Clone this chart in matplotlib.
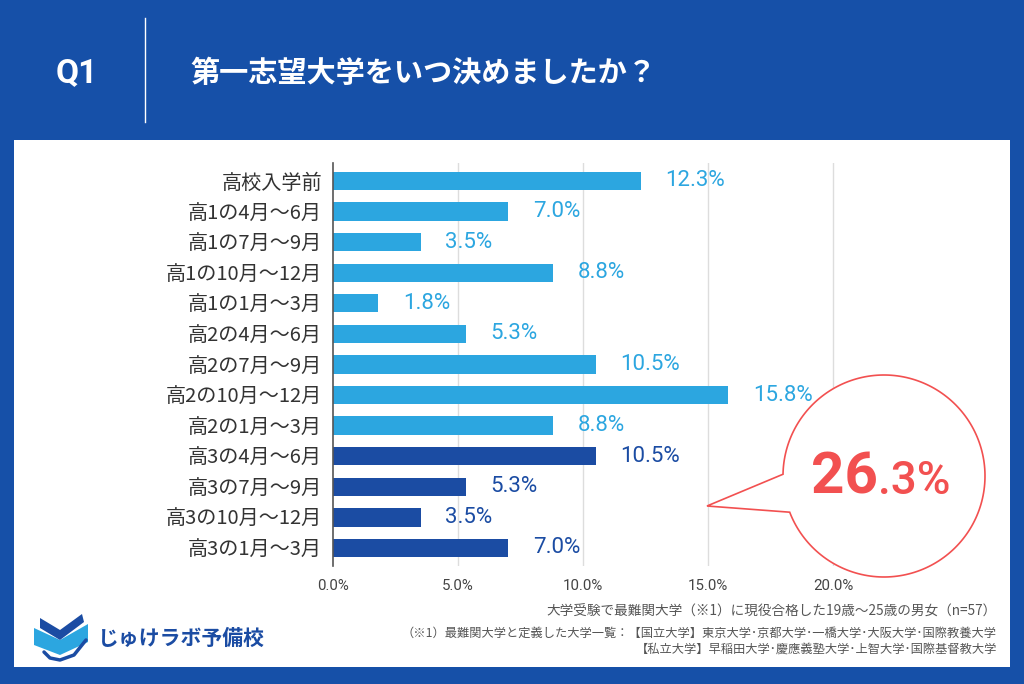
import matplotlib
matplotlib.use('Agg')
import matplotlib.pyplot as plt
from matplotlib.patches import Rectangle, PathPatch, Polygon
from matplotlib.path import Path
import numpy as np

plt.rcParams['font.family'] = ['Roboto', 'Noto Sans CJK JP', 'DejaVu Sans']

# data
categories = ['高校入学前', '高1の4月～6月', '高1の7月～9月', '高1の10月～12月', '高1の1月～3月',
              '高2の4月～6月', '高2の7月～9月', '高2の10月～12月', '高2の1月～3月',
              '高3の4月～6月', '高3の7月～9月', '高3の10月～12月', '高3の1月～3月']
values = [12.3, 7.0, 3.5, 8.8, 1.8, 5.3, 10.5, 15.8, 8.8, 10.5, 5.3, 3.5, 7.0]
is_grade3 = [False] * 9 + [True] * 4
xticks = [0, 5, 10, 15, 20]
total_grade3 = '26'
total_grade3_dec = '.3%'

title = '第一志望大学をいつ決めましたか？'
qlabel = 'Q1'
note1 = '大学受験で最難関大学（※1）に現役合格した19歳～25歳の男女（n=57）'
note2 = '（※1）最難関大学と定義した大学一覧：【国立大学】東京大学･京都大学･一橋大学･大阪大学･国際教養大学'
note3 = '【私立大学】早稲田大学･慶應義塾大学･上智大学･国際基督教大学'
logo = 'じゅけラボ予備校'

BG = '#1650A8'
LIGHT = '#2CA6E0'
DARK = '#1B4CA3'
RED = '#F25050'

W, H = 1024, 684
fig = plt.figure(figsize=(W / 100, H / 100), dpi=100)
fig.patch.set_facecolor(BG)

# background layer in pixel coords
bg = fig.add_axes([0, 0, 1, 1], zorder=0)
bg.set_xlim(0, W)
bg.set_ylim(H, 0)
bg.axis('off')
bg.add_patch(Rectangle((14, 140), 996, 527, facecolor='white', edgecolor='none'))
bg.plot([145, 145], [18, 122], color='white', lw=1)
bg.text(77, 73, qlabel, color='white', fontsize=24, fontweight='bold', ha='center', va='center')
bg.text(190, 73, title, color='white', fontsize=21, fontweight='bold', ha='left', va='center',
        family=['Noto Sans CJK JP'])

# footnotes
bg.text(997, 612, note1, color='#555555', fontsize=9.8, ha='right', va='center', family=['Noto Sans CJK JP'])
bg.text(997, 633, note2, color='#555555', fontsize=8.8, ha='right', va='center', family=['Noto Sans CJK JP'])
bg.text(997, 649, note3, color='#555555', fontsize=8.8, ha='right', va='center', family=['Noto Sans CJK JP'])

# logo
bg.add_patch(Polygon([[34, 628], [60, 640], [60, 655], [34, 645]], closed=True, facecolor=LIGHT, edgecolor='none'))
bg.add_patch(Polygon([[60, 640], [88, 624], [88, 642], [60, 655]], closed=True, facecolor=LIGHT, edgecolor='none'))
bg.add_patch(Polygon([[40, 618], [60, 630], [60, 640], [40, 628]], closed=True, facecolor=DARK, edgecolor='none'))
bg.add_patch(Polygon([[60, 630], [82, 614], [84, 622], [60, 640]], closed=True, facecolor=DARK, edgecolor='none'))
bg.plot([44, 50, 60, 74, 86], [652, 658, 660, 655, 640], color=DARK, lw=2.5, solid_capstyle='round')
bg.text(98, 638, logo, color=DARK, fontsize=15, fontweight='bold', ha='left', va='center',
        family=['Noto Sans CJK JP'])

# chart
ax = fig.add_axes([333 / W, 1 - 566.3 / H, 650 / W, 403.7 / H], zorder=1)
ax.patch.set_alpha(0)
y = np.arange(len(categories))
colors = [DARK if g else LIGHT for g in is_grade3]
ax.barh(y, values, height=0.6, color=colors, zorder=2)
for yi, v, c in zip(y, values, colors):
    ax.text(v + 1.0, yi, f'{v:.1f}%', color=c, fontsize=16, va='center', ha='left', family=['Roboto'])
ax.set_xlim(0, 26)
ax.set_ylim(12.6, -0.6)
ax.set_yticks(y)
ax.set_yticklabels(categories, fontsize=14.5, color='#333333', family=['Noto Sans CJK JP'])
ax.set_xticks(xticks)
ax.set_xticklabels([f'{t:.1f}%' for t in xticks], fontsize=10.8, color='#444444')
ax.tick_params(axis='y', length=0, pad=8)
ax.tick_params(axis='x', length=0, pad=9)
for t in xticks[1:]:
    ax.axvline(t, color='#DDDDDD', lw=1, zorder=1)
for s in ['top', 'right', 'bottom']:
    ax.spines[s].set_visible(False)
ax.spines['left'].set_color('#555555')
ax.spines['left'].set_linewidth(1.2)

# speech balloon on top
fg = fig.add_axes([0, 0, 1, 1], zorder=3)
fg.set_xlim(0, W)
fg.set_ylim(H, 0)
fg.axis('off')
fg.patch.set_alpha(0)
cx, cy, r = 884, 476, 101
a = np.radians(np.linspace(181, 519, 200))
pts = np.column_stack([cx + r * np.cos(a), cy + r * np.sin(a)])
pts = np.vstack([pts, [[707, 506]], pts[:1]])
codes = [Path.MOVETO] + [Path.LINETO] * (len(pts) - 2) + [Path.CLOSEPOLY]
fg.add_patch(PathPatch(Path(pts, codes), facecolor='white', edgecolor=RED, lw=1.2))
fg.text(878, 494, total_grade3, color=RED, fontsize=42, fontweight='bold', ha='right', va='baseline',
        family=['Roboto'])
fg.text(878, 494, total_grade3_dec, color=RED, fontsize=33, fontweight='medium', ha='left', va='baseline',
        family=['Roboto'])

fig.savefig('out.png', dpi=100, facecolor=BG)
